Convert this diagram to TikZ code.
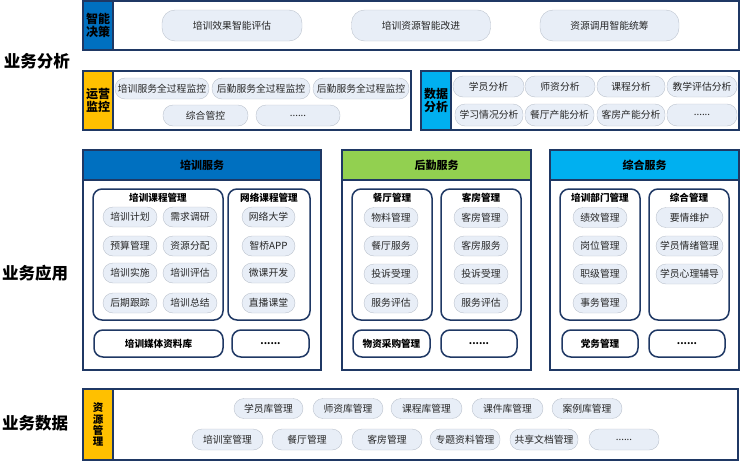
\documentclass[tikz,border=0pt]{standalone}
\usepackage{fontspec}
\setmainfont{Noto Sans CJK SC}

\definecolor{rahmen}{HTML}{1F3864}
\definecolor{blau}{HTML}{0070C0}
\definecolor{gruen}{HTML}{92D050}
\definecolor{hellblau}{HTML}{00B0F0}
\definecolor{gelb}{HTML}{FFC000}
\definecolor{pillbg}{HTML}{E8EEF7}
\definecolor{pillrand}{HTML}{BCC3CE}

\tikzset{
  feld/.style={draw=rahmen, line width=1.3pt, inner sep=0pt},
  seite/.style={draw=rahmen, line width=1.3pt, inner sep=0pt, minimum width=30,
    align=center, font=\bfseries\fontsize{12}{13}\selectfont},
  pille/.style={draw=pillrand, fill=pillbg, rounded corners=10pt, inner sep=0pt,
    minimum height=20, text=black!85, font=\fontsize{9.8}{10}\selectfont},
  gruppe/.style={draw=rahmen, line width=1.5pt, rounded corners=9pt, inner sep=0pt},
  gtitel/.style={inner sep=0pt, font=\bfseries\fontsize{9.6}{10}\selectfont},
  kopf/.style={draw=rahmen, line width=1.3pt, inner sep=0pt, minimum width=238,
    minimum height=30, font=\bfseries\fontsize{11}{12}\selectfont},
  ebene/.style={inner sep=0pt, font=\bfseries\fontsize{16.5}{18}\selectfont},
}

\begin{document}
\begin{tikzpicture}[x=1pt, y=-1pt]
\useasboundingbox (0,0) rectangle (740,461);

% Ebenen links:
\node[ebene] (analyse) at (37,61) {业务分析};
\node[ebene] (anwendung) at (35,273) {业务应用};
\node[ebene] (daten) at (35,423) {业务数据};

% intelligente Entscheidung:
\node[feld, minimum width=656, minimum height=49] (zn) at (411,25.5) {};
\node[seite, fill=blau, minimum height=49] (znl) at (98,25.5) {智能\\决策};
\node[pille, rounded corners=13pt, minimum width=140, minimum height=31] (zn1) at (232,25.5) {培训效果智能评估};
\node[pille, rounded corners=13pt, minimum width=139, minimum height=31] (zn2) at (421,25.5) {培训资源智能改进};
\node[pille, rounded corners=13pt, minimum width=139, minimum height=31] (zn3) at (609.5,25.5) {资源调用智能统筹};

% Betriebsueberwachung:
\node[feld, minimum width=328, minimum height=59] (yy) at (247,100.5) {};
\node[seite, fill=gelb, minimum height=59] (yyl) at (98,100.5) {运营\\监控};
\node[pille, minimum width=94, minimum height=21] (yy1) at (162,88.5) {培训服务全过程监控};
\node[pille, minimum width=98, minimum height=21] (yy2) at (261,88.5) {后勤服务全过程监控};
\node[pille, minimum width=96, minimum height=21] (yy3) at (361,88.5) {后勤服务全过程监控};
\node[pille, minimum width=85, minimum height=21] (yy4) at (205.5,115.5) {综合管控};
\node[pille, minimum width=84, minimum height=21] (yy5) at (298,115.5) {......};

% Datenanalyse:
\node[feld, minimum width=318, minimum height=59] (sj) at (580,100.5) {};
\node[seite, fill=hellblau, minimum height=59] (sjl) at (436,100.5) {数据\\分析};
\node[pille, minimum width=71, minimum height=21] (sj1) at (488.5,86.5) {学员分析};
\node[pille, minimum width=70, minimum height=21] (sj2) at (560,86.5) {师资分析};
\node[pille, minimum width=68, minimum height=21] (sj3) at (631,86.5) {课程分析};
\node[pille, minimum width=70, minimum height=21] (sj4) at (702,86.5) {教学评估分析};
\node[pille, minimum width=68, minimum height=22] (sj5) at (489,115) {学习情况分析};
\node[pille, minimum width=69, minimum height=22] (sj6) at (559.5,115) {餐厅产能分析};
\node[pille, minimum width=68, minimum height=22] (sj7) at (631,115) {客房产能分析};
\node[pille, minimum width=70, minimum height=22] (sj8) at (702,115) {......};

% Schulungsdienst:
\node[feld, minimum width=238, minimum height=220] (px) at (202,260) {};
\node[kopf, fill=blau] (pxk) at (202,165) {培训服务};
\node[gruppe, minimum width=130, minimum height=131] (kc) at (158,254.5) {};
\node[gtitel] (kct) at (158,198) {培训课程管理};
\node[pille, minimum width=54] (kc1) at (130,217) {培训计划};
\node[pille, minimum width=54] (kc2) at (190,217) {需求调研};
\node[pille, minimum width=54] (kc3) at (130,246) {预算管理};
\node[pille, minimum width=54] (kc4) at (190,246) {资源分配};
\node[pille, minimum width=54] (kc5) at (130,273) {培训实施};
\node[pille, minimum width=54] (kc6) at (190,273) {培训评估};
\node[pille, minimum width=54] (kc7) at (130,303) {后期跟踪};
\node[pille, minimum width=54] (kc8) at (190,303) {培训总结};
\node[gruppe, minimum width=82, minimum height=131] (wl) at (269,254.5) {};
\node[gtitel] (wlt) at (269,198) {网络课程管理};
\node[pille, minimum width=53] (wl1) at (268.5,217) {网络大学};
\node[pille, minimum width=53] (wl2) at (268.5,246) {智桥APP};
\node[pille, minimum width=53] (wl3) at (268.5,273) {微课开发};
\node[pille, minimum width=53] (wl4) at (268.5,303) {直播课堂};
\node[gruppe, gtitel, minimum width=129, minimum height=27] (mt) at (158.5,343.5) {培训媒体资料库};
\node[gruppe, gtitel, minimum width=77, minimum height=27] (pxe) at (270.5,343.5) {......};

% Logistikdienst:
\node[feld, minimum width=189, minimum height=220] (hq) at (436.5,260) {};
\node[kopf, fill=gruen, minimum width=189] (hqk) at (436.5,165) {后勤服务};
\node[gruppe, minimum width=80, minimum height=131] (ct) at (392,254.5) {};
\node[gtitel] (ctt) at (392,198) {餐厅管理};
\node[pille, minimum width=54] (ct1) at (391,217.5) {物料管理};
\node[pille, minimum width=54] (ct2) at (391,246) {餐厅服务};
\node[pille, minimum width=54] (ct3) at (391,274) {投诉受理};
\node[pille, minimum width=54] (ct4) at (391,303) {服务评估};
\node[gruppe, minimum width=80, minimum height=131] (kf) at (481,254.5) {};
\node[gtitel] (kft) at (481,198) {客房管理};
\node[pille, minimum width=54] (kf1) at (481,217.5) {客房管理};
\node[pille, minimum width=54] (kf2) at (481,246) {客房服务};
\node[pille, minimum width=54] (kf3) at (481,274) {投诉受理};
\node[pille, minimum width=54] (kf4) at (481,303) {服务评估};
\node[gruppe, gtitel, minimum width=77, minimum height=27] (cg) at (391.5,343.5) {物资采购管理};
\node[gruppe, gtitel, minimum width=76, minimum height=27] (hqe) at (479,343.5) {......};

% allgemeiner Dienst:
\node[feld, minimum width=189, minimum height=220] (zh) at (644.5,260) {};
\node[kopf, fill=hellblau, minimum width=189] (zhk) at (644.5,165) {综合服务};
\node[gruppe, minimum width=80, minimum height=131] (bm) at (600,254.5) {};
\node[gtitel] (bmt) at (600,198) {培训部门管理};
\node[pille, minimum width=54] (bm1) at (600,217.5) {绩效管理};
\node[pille, minimum width=54] (bm2) at (600,246) {岗位管理};
\node[pille, minimum width=54] (bm3) at (600,274) {职级管理};
\node[pille, minimum width=54] (bm4) at (600,303) {事务管理};
\node[gruppe, minimum width=80, minimum height=131] (zg) at (689,254.5) {};
\node[gtitel] (zgt) at (689,198) {综合管理};
\node[pille, minimum width=67] (zg1) at (689.5,217.5) {要情维护};
\node[pille, minimum width=67] (zg2) at (689.5,246) {学员情绪管理};
\node[pille, minimum width=67] (zg3) at (689.5,274) {学员心理辅导};
\node[gruppe, gtitel, minimum width=76, minimum height=27] (dw) at (600,343.5) {党务管理};
\node[gruppe, gtitel, minimum width=76, minimum height=27] (zhe) at (687,343.5) {......};

% Ressourcenverwaltung:
\node[feld, minimum width=655, minimum height=71] (zy) at (410.5,424.5) {};
\node[seite, fill=gelb, minimum height=71, font=\bfseries\fontsize{10.5}{11.2}\selectfont] (zyl) at (98,424.5) {资\\源\\管\\理};
\node[pille, minimum width=69] (zy1) at (268.5,408.5) {学员库管理};
\node[pille, minimum width=70] (zy2) at (348,408.5) {师资库管理};
\node[pille, minimum width=71] (zy3) at (426.5,408.5) {课程库管理};
\node[pille, minimum width=71] (zy4) at (507.5,408.5) {课件库管理};
\node[pille, minimum width=70] (zy5) at (587,408.5) {案例库管理};
\node[pille, minimum width=71, minimum height=21] (zy6) at (227.5,439.5) {培训室管理};
\node[pille, minimum width=70, minimum height=21] (zy7) at (307,439.5) {餐厅管理};
\node[pille, minimum width=70, minimum height=21] (zy8) at (387,439.5) {客房管理};
\node[pille, minimum width=70, minimum height=21] (zy9) at (465,439.5) {专题资料管理};
\node[pille, minimum width=68, minimum height=21] (zy10) at (544,439.5) {共享文档管理};
\node[pille, minimum width=70, minimum height=21] (zy11) at (624,439.5) {......};
\end{tikzpicture}
\end{document}
